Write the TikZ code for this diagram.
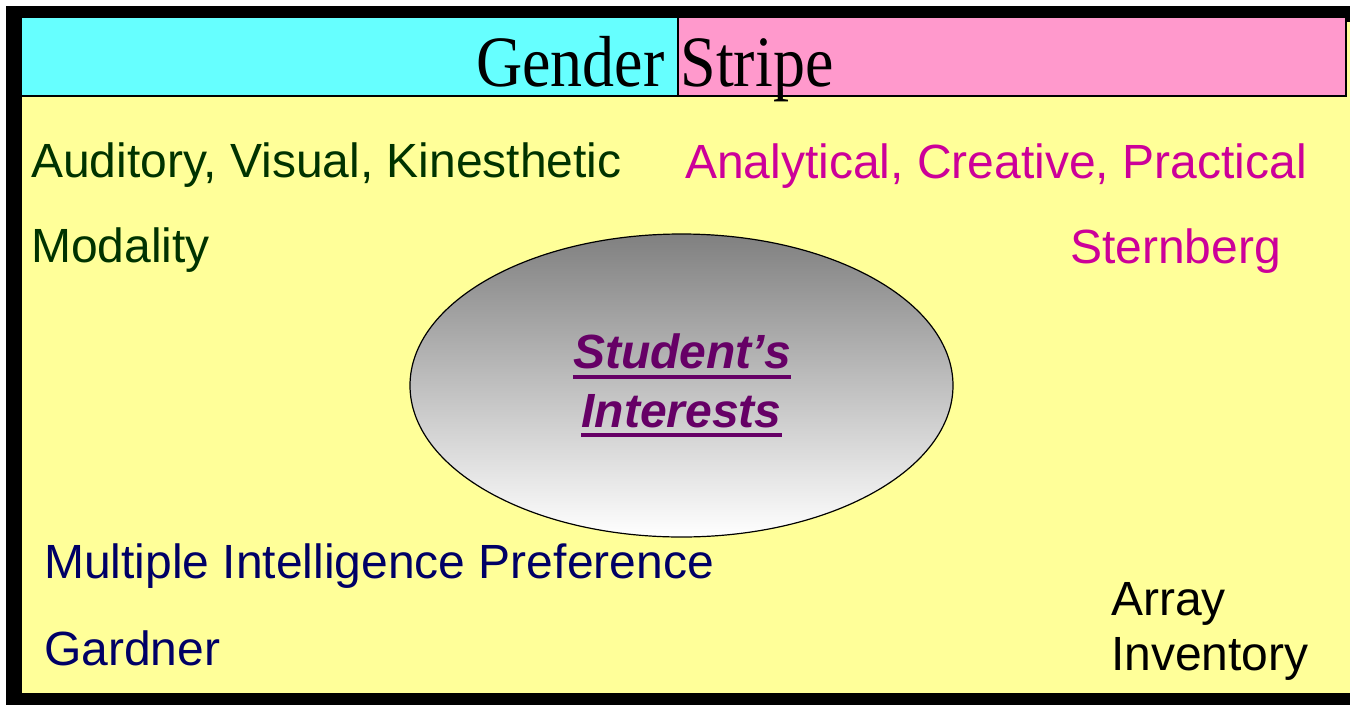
\documentclass[tikz,border=0pt]{standalone}
\usepackage{fontspec}
\setmainfont{Liberation Sans}
\newfontfamily\timesfont{Liberation Serif}
\usetikzlibrary{shapes.geometric}
\definecolor{frameyellow}{HTML}{FFFF99}
\definecolor{stripecyan}{HTML}{66FFFF}
\definecolor{stripepink}{HTML}{FF99CC}
\definecolor{txtgreen}{HTML}{003300}
\definecolor{txtmagenta}{HTML}{CC0099}
\definecolor{txtnavy}{HTML}{000066}
\definecolor{txtpurple}{HTML}{660066}
\definecolor{ellgray}{HTML}{808080}
\tikzset{
  lbl/.style={anchor=base west, inner sep=0pt, font=\fontsize{48}{57}\selectfont},
  ctr/.style={anchor=base, inner sep=0pt, text=txtpurple, font=\fontsize{48}{57}\selectfont\bfseries\itshape},
  uline/.style={draw=txtpurple, line width=4.5pt},
  stripebox/.style={draw=black, line width=1.5pt}
}
\begin{document}
\begin{tikzpicture}[x=1pt, y=-1pt]
\useasboundingbox (0,0) rectangle (1350,705);
% frame
\fill[black] (6,6) rectangle (1350,705);
\fill[frameyellow] (22,22) rectangle (1350,693);
% gender stripe
\path[stripebox, fill=stripecyan] (21,17) rectangle (678,96);
\path[stripebox, fill=stripepink] (678,17) rectangle (1346,96);
\node[anchor=base west, inner sep=0pt] (title) at (476,86)
  {\scalebox{1}[1.13]{\timesfont\fontsize{64}{70}\selectfont Gender Stripe}};
% ellipse
\node[ellipse, draw=black, line width=1.2pt, top color=ellgray, bottom color=white,
      minimum width=543pt, minimum height=303pt, inner sep=0pt] (ell) at (681.5,385.5) {};
\node[ctr] (stud) at (682,368) {Student’s};
\node[ctr] (intr) at (681.5,427) {Interests};
\draw[uline] ([yshift=-9pt]stud.base west) -- ([yshift=-9pt]stud.base east);
\draw[uline] ([yshift=-8pt]intr.base west) -- ([yshift=-8pt]intr.base east);
% labels
\node[lbl, text=txtgreen] (avk) at (31,177) {Auditory, Visual, Kinesthetic};
\node[lbl, text=txtgreen] (mod) at (31,262) {Modality};
\node[lbl, text=txtmagenta] (acp) at (685,178) {Analytical, Creative, Practical};
\node[lbl, text=txtmagenta] (stern) at (1070,263) {Sternberg};
\node[lbl, text=txtnavy] (mip) at (44,578) {Multiple Intelligence Preference};
\node[lbl, text=txtnavy] (gard) at (44,665) {Gardner};
\node[lbl, text=black] (arr) at (1111,615) {Array};
\node[lbl, text=black] (inv) at (1111,670) {Inventory};
\end{tikzpicture}
\end{document}
